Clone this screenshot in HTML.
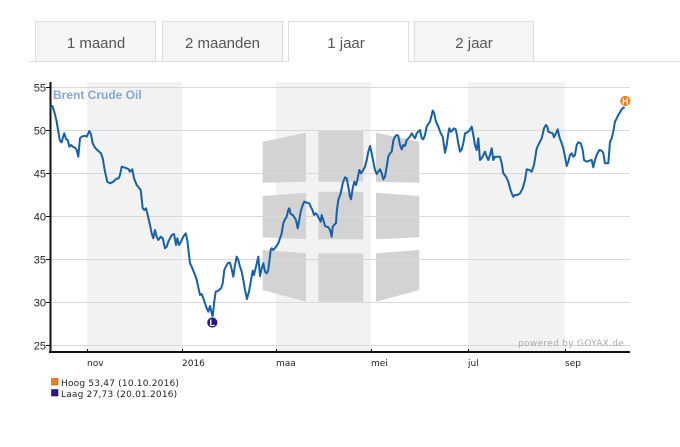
<!DOCTYPE html>
<html>
<head>
<meta charset="utf-8">
<style>
  html,body{margin:0;padding:0;background:#fff;}
  body{width:680px;height:447px;overflow:hidden;position:relative;}
  svg{position:absolute;left:0;top:0;}
</style>
</head>
<body>
<svg width="680" height="447" viewBox="0 0 680 447" xmlns="http://www.w3.org/2000/svg">
  <!-- Tabs -->
  <line x1="29" y1="61.5" x2="680" y2="61.5" stroke="#dddddd" stroke-width="1"/>
  <rect x="35.5" y="21.5" width="120" height="40" fill="#f5f5f5" stroke="#dddddd" stroke-width="1"/>
  <rect x="162.5" y="21.5" width="120" height="40" fill="#f5f5f5" stroke="#dddddd" stroke-width="1"/>
  <rect x="288.5" y="21.5" width="120" height="41" fill="#ffffff" stroke="none"/>
  <path d="M288.5 62 V21.5 H408.5 V62" fill="none" stroke="#dddddd" stroke-width="1"/>
  <rect x="414.5" y="21.5" width="119" height="40" fill="#f5f5f5" stroke="#dddddd" stroke-width="1"/>
  <g font-family="Liberation Sans, Arial, sans-serif" font-size="15" fill="#555555" text-anchor="middle">
    <text x="96" y="48">1 maand</text>
    <text x="222.5" y="48">2 maanden</text>
    <text x="346" y="48">1 jaar</text>
    <text x="474" y="48">2 jaar</text>
  </g>

  <!-- Bands -->
  <rect x="87" y="82" width="95" height="270" fill="#f2f2f2"/>
  <rect x="276" y="82" width="95" height="270" fill="#f2f2f2"/>
  <rect x="468" y="82" width="97" height="270" fill="#f2f2f2"/>

  <!-- Watermark logo -->
  <g fill="#d3d3d3">
    <polygon points="262.7,141.7 306,132.7 306,181.7 262.7,182.7"/>
    <polygon points="318.3,130 363.3,130 363.3,181.7 318.3,181.7"/>
    <polygon points="376,132.7 419.3,141.7 419.3,182.7 376,181.7"/>
    <polygon points="262.7,196 306,192.7 306,239.3 262.7,237.3"/>
    <polygon points="318.3,191.7 363.3,191.7 363.3,239.3 318.3,239.3"/>
    <polygon points="376,192.7 419.3,196 419.3,237.3 376,239.3"/>
    <polygon points="262.7,250 306,253.3 306,301.7 262.7,290"/>
    <polygon points="318.3,253.3 363.3,253.3 363.3,301.7 318.3,301.7"/>
    <polygon points="376,253.3 419.3,250 419.3,290 376,301.7"/>
  </g>

  <!-- Gridlines -->
  <g stroke="#d9d9d9" stroke-width="1">
    <line x1="50" y1="87.5" x2="630" y2="87.5"/>
    <line x1="50" y1="130.5" x2="630" y2="130.5"/>
    <line x1="50" y1="173.5" x2="630" y2="173.5"/>
    <line x1="50" y1="216.5" x2="630" y2="216.5"/>
    <line x1="50" y1="259.5" x2="630" y2="259.5"/>
    <line x1="50" y1="302.5" x2="630" y2="302.5"/>
    <line x1="50" y1="345.5" x2="630" y2="345.5"/>
  </g>

  <!-- Axes -->
  <line x1="50.5" y1="82" x2="50.5" y2="353" stroke="#111" stroke-width="2"/>
  <line x1="49" y1="352" x2="630" y2="352" stroke="#111" stroke-width="2"/>
  <g stroke="#111" stroke-width="1">
    <line x1="46" y1="87.5" x2="50" y2="87.5"/>
    <line x1="46" y1="130.5" x2="50" y2="130.5"/>
    <line x1="46" y1="173.5" x2="50" y2="173.5"/>
    <line x1="46" y1="216.5" x2="50" y2="216.5"/>
    <line x1="46" y1="259.5" x2="50" y2="259.5"/>
    <line x1="46" y1="302.5" x2="50" y2="302.5"/>
    <line x1="46" y1="345.5" x2="50" y2="345.5"/>
    <line x1="87.5" y1="349" x2="87.5" y2="352"/>
    <line x1="182.5" y1="349" x2="182.5" y2="352"/>
    <line x1="276.5" y1="349" x2="276.5" y2="352"/>
    <line x1="371.5" y1="349" x2="371.5" y2="352"/>
    <line x1="468.5" y1="349" x2="468.5" y2="352"/>
    <line x1="565.5" y1="349" x2="565.5" y2="352"/>
  </g>

  <!-- Y labels -->
  <g font-family="Liberation Sans, Arial, sans-serif" font-size="11" fill="#222" text-anchor="end">
    <text x="46" y="91.5">55</text>
    <text x="46" y="134.5">50</text>
    <text x="46" y="177.5">45</text>
    <text x="46" y="220.5">40</text>
    <text x="46" y="263.5">35</text>
    <text x="46" y="306.5">30</text>
    <text x="46" y="349.5">25</text>
  </g>

  <!-- X labels -->
  <g font-family="DejaVu Sans, Verdana, sans-serif" font-size="9" fill="#222">
    <text x="87" y="366">nov</text>
    <text x="182" y="366">2016</text>
    <text x="276" y="366">maa</text>
    <text x="371" y="366">mei</text>
    <text x="468" y="366">jul</text>
    <text x="565" y="366">sep</text>
  </g>

  <!-- Title -->
  <text x="53" y="99" font-family="Liberation Sans, Arial, sans-serif" font-size="12" font-weight="bold" fill="#82a9d0">Brent Crude Oil</text>

  <!-- powered by -->
  <text x="518" y="346" font-family="DejaVu Sans, Verdana, sans-serif" font-size="9" letter-spacing="0.3" fill="#aaaaaa">powered by GOYAX.de</text>

  <!-- Series -->
  <polyline fill="none" stroke="#1560a8" stroke-width="2" stroke-linejoin="round" stroke-linecap="round" points="
51,107.3 52.3,106 54.3,111.7 56.7,121.7 58.3,131.7 60,141 61.7,142.3 63.3,136 64.3,133.3 66,139 67.7,140 69.3,146.7 71,145 72.7,146.7 75,147.7 76.7,150 78.3,156.7 80,138.3 81.7,136.7 85,135.7 86.7,136.7 89.3,131 91,134.3 92.7,143.3 95,147.7 98.3,151 101,153.3 102.7,158.3 105,171.7 107.3,181.7 110,183.3 113.3,181.7 116,179 118.7,178.3 120,175 121.7,166.7 125,167.7 128.3,169 130,171.7 132.3,169.3 134,178.3 136.7,185 139.3,188.3 140.7,190 142.7,208.3 144.3,210 146,208.3 147.7,215 150,225
151.7,233.3 153.3,238.3 155,230 156.7,236.7 158.3,240 160.7,236.7 162.7,238.3 165,248.3 166.7,246.7 168.3,241.7 170,238.3 171.7,235 174,234 176,245 177.3,238.3 179,245 181,241.7 183.3,236.7 185.7,233.3 187.3,240 190,263.3 191.7,266.7 195,275 196.7,280 200,295 201.7,294 203.3,298.3 205,303.3 206.7,308.3 208.3,311.7 210,306 211.7,313.3 212.7,317 214,303.3 215.7,291.7 218.3,290.7 221,288.3 222.7,283.3 224.3,270 226.7,265 228.3,262.7 230,262.7 231.7,269.3 233.3,276.7 235,265 236.7,256.7 238.3,260 240,266.7 241.7,271.7 243.3,280 245,290 247,299 249.3,290
250.5,283 252.7,270.7 254,275 256,266.7 258.3,256.7 260,276 261.7,268.3 263.3,263.3 265,271.7 266.7,273.3 268.3,270 270.7,250 271.7,248.3 273.3,250 276,246.7 278.3,243.3 280,238.3 281.7,233.3 283.3,223.3 285,219.3 286.7,216.7 288.3,210 289.3,208.3 290.7,214 292.7,215 294,216.7 296,220 297.7,228.3 299.3,220 300.7,211.7 302.7,205 304.3,201.7 306.7,202.7 309.3,203.3 310.7,206.7 312.7,210.7 314,215 315.7,213.3 317.3,215 319,218.3 320.7,221.7 321.7,215 323.3,220 325,226 326.7,226.7 328.3,227.3 330,230 331.7,236.7 332.7,226.7 334,225 336,223.3 336.7,211.7 338.3,200 340.7,193.3 342.7,183.3 345,177.3 346.7,178.3 348.3,186.7 350,196.7 351,199.3 352.7,188.3 354.3,181.7 356,185 357.3,180 359.3,170 361,173.3 363.3,170 365,166.7 366.7,160 368.3,151.7 370,146 371.7,153.3 373.3,161.7 375,170 376.7,174 378.3,171.7 380,169.3 381.7,173.3 383.3,179.3 385,176.7 386.7,166.7 388.3,156.7 390,153.3 391.7,151.7 393.3,140.7 395,136.7 396.7,135 398.3,136 400,145 401.7,149.3 403.3,145 405,146 406.7,140 408.3,138.3 410,136.7 411.7,133.3 413.3,136 415,138.3 416.7,133.3 418.3,131.7 420,130 421.7,138.3 423.3,139.3 425,135 426.7,126.7 428.3,124 430,121.7
432.7,110.7 434,112.7 436,121.7 438.3,126.7 440.7,133.3 442.7,136.7 445,152.7 446.7,145 448.3,133.3 449.3,128.3 451,131.7 452.7,130 454,128.3 455.7,129.3 456.7,134 458.3,143.3 460,151.7 461.7,149.3 463.3,143.3 465,133.3 466.7,132.7 469.3,130.7 471.7,126.7 473.3,135 475,145 476.7,150 478.3,138.3 480,160 481.7,158.3 483.3,155 485,151.7 486.7,156.7 488.3,160 490,155 491.7,148.3 493.3,160 495,156.7 500,156.7 501.7,163.3 503.3,173.3 506,176.7 508.3,181.7 510,188.3 511.7,193.3 513.3,196.7 515,195 517.3,195 520,193.3 522.7,188.3 525,180 526.7,169.3 529.3,170 531.7,171.7 534,165 536.7,148.3 538.3,145 541.7,138.3 544,128.3 546,125 547.3,126.7 548.3,131.7 550.7,132.7 552.7,133.3 554,137.3 556,133.3 557.7,129.3 559.3,136.7 561.7,143.3 563.3,148.3 565,156.7 566.7,166 568.3,161.7 570,155 571.7,153.3 573.3,156.7 575,155 576.7,145 578.3,142.3 580.7,143.3 582.7,150 584,160 586.7,161.7 589.3,160.7 591.7,160 593.3,167.3 595,160 596.7,155 599.3,150 601.7,150.7 603.3,153.3 605,163.3 608.3,163.3 610,141.7 611.7,138.3 613.3,131.7 615,121.7 616.7,118.3 618.3,115 620,112.3 621.7,109.3 624,107.3"/>

  <!-- Markers -->
  <circle cx="212.3" cy="322.5" r="5.5" fill="#2b1a8c" stroke="#ffffff" stroke-width="0.8"/>
  <text x="212.3" y="325.8" font-family="Liberation Sans, Arial, sans-serif" font-size="9" font-weight="bold" fill="#ffffff" text-anchor="middle">L</text>
  <circle cx="625.3" cy="101" r="5.5" fill="#e8801c" stroke="#ffffff" stroke-width="0.8"/>
  <text x="625.3" y="104.3" font-family="Liberation Sans, Arial, sans-serif" font-size="9" font-weight="bold" fill="#ffffff" text-anchor="middle">H</text>

  <!-- Legend -->
  <rect x="51.5" y="378.5" width="6.5" height="6.5" fill="#e8801c" stroke="#a85a10" stroke-width="0.6"/>
  <rect x="51.5" y="389.5" width="6.5" height="6.5" fill="#2b1a8c" stroke="#1a0f5a" stroke-width="0.6"/>
  <g font-family="DejaVu Sans, Verdana, sans-serif" font-size="9" fill="#222" letter-spacing="0.2">
    <text x="61" y="386">Hoog 53,47 (10.10.2016)</text>
    <text x="61" y="397">Laag 27,73 (20.01.2016)</text>
  </g>
</svg>
</body>
</html>
